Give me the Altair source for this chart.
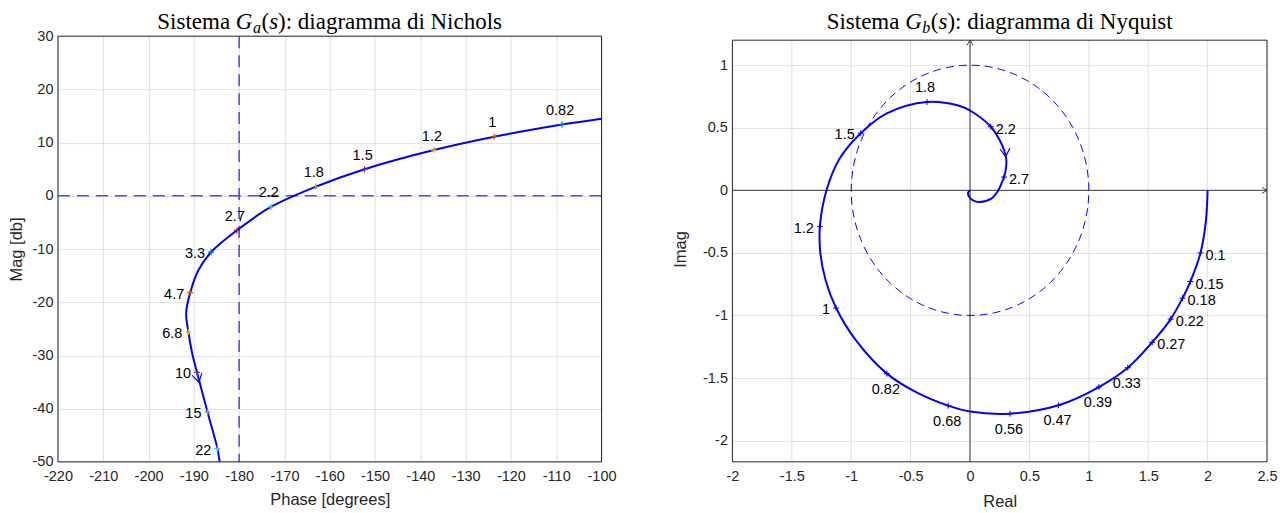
import altair as alt
import pandas as pd
import numpy as np

# ----------------------------- data: Nichols (G_a) -----------------------------
nich_phase = [-100.0, -108.7, -123.7, -137.0, -152.3, -163.1, -173.0, -180.5, -186.2,
              -189.0, -190.8, -191.7, -191.2, -190.4, -189.3, -187.0, -184.8, -184.3]
nich_mag = [14.5, 13.4, 11.1, 8.6, 5.0, 1.7, -2.1, -6.5, -10.6,
            -14.0, -18.2, -22.0, -25.6, -29.5, -33.2, -40.6, -47.5, -50.0]

nich_lab = ["0.82", "1", "1.2", "1.5", "1.8", "2.2", "2.7", "3.3", "4.7", "6.8", "10", "15", "22"]
nich_lab_phase = [-108.7, -123.7, -137.0, -152.3, -163.1, -173.0, -180.5, -186.2, -190.8, -191.2, -189.3, -187.0, -184.8]
nich_lab_mag = [13.4, 11.1, 8.6, 5.0, 1.7, -2.1, -6.5, -10.6, -18.2, -25.6, -33.2, -40.6, -47.5]
nich_lab_side = ["above"] * 7 + ["left"] * 6
nich_marker_colors = ["#0072BD", "#D95319", "#EDB120", "#7E2F8E", "#77AC30", "#4DBEEE", "#A2142F",
                      "#0072BD", "#D95319", "#EDB120", "#7E2F8E", "#77AC30", "#4DBEEE"]
nich_arrow_phase = [-188.9]
nich_arrow_mag = [-35.0]

phase_ticks = [-220, -210, -200, -190, -180, -170, -160, -150, -140, -130, -120, -110, -100]
mag_ticks = [-50, -40, -30, -20, -10, 0, 10, 20, 30]
xlim_a = [-220, -100]
ylim_a = [-50, 30]
crit_phase = [-180]
crit_mag = [0]

# ----------------------------- data: Nyquist (G_b) -----------------------------
nyq_re = [2.0, 1.985, 1.94, 1.855, 1.789, 1.689, 1.533, 1.328, 1.085, 0.745, 0.336, 0.0,
          -0.184, -0.45, -0.70, -0.96, -1.127, -1.215, -1.26, -1.264, -1.208, -1.10, -0.92,
          -0.70, -0.362, -0.10, 0.0, 0.175, 0.25, 0.292, 0.306, 0.30, 0.286, 0.264, 0.235,
          0.179, 0.081, 0.025, -0.006, -0.017, 0.0]
nyq_im = [0.0, -0.25, -0.50, -0.729, -0.862, -1.029, -1.215, -1.418, -1.572, -1.718, -1.785, -1.768,
          -1.721, -1.615, -1.465, -1.20, -0.941, -0.72, -0.50, -0.29, 0.0, 0.25, 0.456,
          0.615, 0.706, 0.678, 0.638, 0.508, 0.40, 0.306, 0.239, 0.16, 0.106, 0.053, -0.005,
          -0.066, -0.093, -0.08, -0.053, -0.021, 0.0]

nyq_lab = ["0.1", "0.15", "0.18", "0.22", "0.27", "0.33", "0.39", "0.47", "0.56", "0.68", "0.82",
           "1", "1.2", "1.5", "1.8", "2.2", "2.7"]
nyq_lab_re = [1.94, 1.855, 1.789, 1.689, 1.533, 1.328, 1.085, 0.745, 0.336, -0.184, -0.70,
              -1.127, -1.264, -0.92, -0.362, 0.175, 0.286]
nyq_lab_im = [-0.50, -0.729, -0.862, -1.029, -1.215, -1.418, -1.572, -1.718, -1.785, -1.721, -1.465,
              -0.941, -0.29, 0.456, 0.706, 0.508, 0.106]
nyq_lab_side = ["right"] * 5 + ["below"] * 6 + ["left"] * 3 + ["above"] + ["right"] * 2
nyq_arrow_re = [0.30]
nyq_arrow_im = [0.27]

re_ticks = [-2, -1.5, -1, -0.5, 0, 0.5, 1, 1.5, 2, 2.5]
im_ticks = [-2, -1.5, -1, -0.5, 0, 0.5, 1]
xlim_b = [-2, 2.5]
ylim_b = [-2.17, 1.2]
unit_radius = 1.0

# ----------------------------- style -----------------------------
FONT = "Liberation Sans"
SERIF = "Liberation Serif"
BLUE = "#0000ff"
AXC = "#262626"
GRID = "#e0e0e0"
PLUS = "M-1,0L1,0M0,-1L0,1"
VHEAD = "M-1,-1.6L0,0L1,-1.6"
RIGHT_HEAD = "M-1.25,-0.75L0,0L-1.25,0.75"
UP_HEAD = "M-0.75,1.25L0,0L0.75,1.25"

W_A, H_A = 544, 426
W_B, H_B = 535, 426
EXTRA_TOP_B = 4 / 125.2   # right axes box starts 4 px below the left one
TITLE_SIZE = 23

ONE = alt.Data(values=[{}])


def axis(values, title, label_pad, title_pad, grid=True):
    return alt.Axis(values=values, title=title, grid=grid, gridColor=GRID, gridWidth=1,
                    domain=False, ticks=False, labelFont=FONT, labelFontSize=14.5,
                    labelColor=AXC, labelPadding=label_pad, labelFlush=False,
                    labelOverlap=False, labelExpr="'' + datum.value",
                    titleFont=FONT, titleFontSize=16.5, titleFontWeight="normal",
                    titleColor=AXC, titlePadding=title_pad)


ROMAN = {" ": 250, "(": 333, ")": 333, ":": 278, "S": 556, "N": 722, "a": 444, "c": 444,
         "d": 500, "e": 444, "g": 500, "h": 500, "i": 278, "l": 278, "m": 778, "o": 500,
         "q": 500, "r": 333, "s": 389, "t": 278, "u": 500, "y": 500}
ITALIC = {"G": 722, "a": 500, "b": 500, "s": 389}


def title_layers(pieces, center, base, size):
    widths = []
    for txt, it, sub in pieces:
        fs = size * 0.7 if sub else size
        tbl = ITALIC if it else ROMAN
        widths.append(sum(tbl[c] for c in txt) * fs / 1000 + (1.0 if sub else 0.0))
    x = center - sum(widths) / 2
    out = []
    for (txt, it, sub), w in zip(pieces, widths):
        out.append(
            alt.Chart(ONE).mark_text(
                text=txt, align="left", baseline="alphabetic", font=SERIF,
                fontSize=size * 0.7 if sub else size,
                fontStyle="italic" if it else "normal", color="black"
            ).encode(x=alt.value(x + (0.5 if sub else 0.0)), y=alt.value(base + (4 if sub else 0)))
        )
        x += w
    return out


SIDES = {
    "above": dict(align="center", dx=-2, dy=-13.5),
    "left": dict(align="right", dx=-6, dy=2),
    "right": dict(align="left", dx=5, dy=3),
    "below": dict(align="center", dx=-1, dy=16),
}


def label_layers(df, x, y, sides):
    out = []
    for s in sides:
        out.append(
            alt.Chart(df).transform_filter(alt.datum.side == s).mark_text(
                baseline="middle", font=FONT, fontSize=14.5, color="black", **SIDES[s]
            ).encode(x=x, y=y, text="label:N")
        )
    return out


# ----------------------------- left: Nichols -----------------------------
xa = alt.X("phase:Q", scale=alt.Scale(domain=xlim_a, nice=False, zero=False),
           axis=axis(phase_ticks, "Phase [degrees]", 8, 8))
ya = alt.Y("mag:Q", scale=alt.Scale(domain=ylim_a, nice=False, zero=False),
           axis=axis(mag_ticks, "Mag [db]", 5, 7.5))

curve_a = pd.DataFrame({"phase": nich_phase, "mag": nich_mag, "k": list(range(len(nich_phase)))})
lab_a = pd.DataFrame({"phase": nich_lab_phase, "mag": nich_lab_mag, "label": nich_lab, "side": nich_lab_side})
arrow_a = pd.DataFrame({"phase": nich_arrow_phase, "mag": nich_arrow_mag})
frame_a = pd.DataFrame({"phase": [xlim_a[0]], "phase2": [xlim_a[1]], "mag": [ylim_a[0]], "mag2": [ylim_a[1]]})

left_layers = [
    alt.Chart(curve_a).mark_line(strokeOpacity=0).encode(x=xa, y=ya, order="k:Q"),
    alt.Chart(pd.DataFrame({"phase": crit_phase})).mark_rule(
        color="#4d4dff", strokeWidth=1.6, strokeDash=[12, 7]).encode(x=xa),
    alt.Chart(pd.DataFrame({"mag": crit_mag})).mark_rule(
        color="#4d4dff", strokeWidth=1.6, strokeDash=[12, 7]).encode(y=ya),
    alt.Chart(curve_a).mark_line(color=BLUE, strokeWidth=2, interpolate="catmull-rom", clip=True)
        .encode(x=xa, y=ya, order="k:Q"),
    alt.Chart(lab_a).mark_point(shape=PLUS, filled=False, size=36, strokeWidth=1.2, opacity=1)
        .encode(x=xa, y=ya, color=alt.Color("label:N", scale=alt.Scale(domain=nich_lab, range=nich_marker_colors), legend=None)),
]
left_layers += label_layers(lab_a, xa, ya, ["above", "left"])
left_layers += [
    alt.Chart(arrow_a).mark_point(shape=VHEAD, filled=False, size=100, strokeWidth=1.2,
                                  color=BLUE, opacity=1, angle=347).encode(x=xa, y=ya),
    alt.Chart(frame_a).mark_rect(fillOpacity=0, stroke=AXC, strokeWidth=1)
        .encode(x=xa, x2="phase2:Q", y=ya, y2="mag2:Q"),
]
left_layers += title_layers(
    [("Sistema ", False, False), ("G", True, False), ("a", True, True), ("(", False, False),
     ("s", True, False), ("): diagramma di Nichols", False, False)],
    W_A / 2, -7, TITLE_SIZE)

left = alt.layer(*left_layers).properties(width=W_A, height=H_A)

# ----------------------------- right: Nyquist -----------------------------
xb = alt.X("re:Q", scale=alt.Scale(domain=xlim_b, nice=False, zero=False),
           axis=axis(re_ticks, "Real", 8, 10, grid=False))
yb = alt.Y("im:Q", scale=alt.Scale(domain=[ylim_b[0], ylim_b[1] + EXTRA_TOP_B], nice=False, zero=False),
           axis=axis(im_ticks, "Imag", 5, 13.5))

curve_b = pd.DataFrame({"re": nyq_re, "im": nyq_im, "k": list(range(len(nyq_re)))})
lab_b = pd.DataFrame({"re": nyq_lab_re, "im": nyq_lab_im, "label": nyq_lab, "side": nyq_lab_side})
arrow_b = pd.DataFrame({"re": nyq_arrow_re, "im": nyq_arrow_im})
frame_b = pd.DataFrame({"re": [xlim_b[0]], "re2": [xlim_b[1]], "im": [ylim_b[0]], "im2": [ylim_b[1]]})
vgrid_b = pd.DataFrame({"re": re_ticks})
# unit circle (reference geometry, not data)
th = np.linspace(0, 2 * np.pi, 241)
circle_b = pd.DataFrame({"re": unit_radius * np.cos(th), "im": unit_radius * np.sin(th), "k": np.arange(len(th))})

right_layers = [
    alt.Chart(vgrid_b).mark_rule(color=GRID, strokeWidth=1)
        .encode(x=xb, y=alt.datum(ylim_b[0]), y2=alt.datum(ylim_b[1])),
    alt.Chart(ONE).mark_rule(color="#3a3a3a", strokeWidth=1)
        .encode(x=alt.datum(xlim_b[0]), x2=alt.datum(xlim_b[1]), y=alt.datum(0)),
    alt.Chart(ONE).mark_rule(color="#3a3a3a", strokeWidth=1)
        .encode(x=alt.datum(0), y=alt.datum(ylim_b[0]), y2=alt.datum(ylim_b[1])),
    alt.Chart(pd.DataFrame({"re": [xlim_b[1]], "im": [0]})).mark_point(
        shape=RIGHT_HEAD, filled=False, size=64, strokeWidth=1, color="#3a3a3a", opacity=1).encode(x=xb, y=yb),
    alt.Chart(pd.DataFrame({"re": [0], "im": [ylim_b[1]]})).mark_point(
        shape=UP_HEAD, filled=False, size=64, strokeWidth=1, color="#3a3a3a", opacity=1).encode(x=xb, y=yb),
    alt.Chart(circle_b).mark_line(color=BLUE, strokeWidth=1, strokeDash=[8, 5])
        .encode(x=xb, y=yb, order="k:Q"),
    alt.Chart(curve_b).mark_line(color=BLUE, strokeWidth=2, interpolate="catmull-rom", clip=True)
        .encode(x=xb, y=yb, order="k:Q"),
    alt.Chart(lab_b).mark_point(shape=PLUS, filled=False, size=36, strokeWidth=1, color=BLUE, opacity=1)
        .encode(x=xb, y=yb),
]
right_layers += label_layers(lab_b, xb, yb, ["right", "below", "left", "above"])
right_layers += [
    alt.Chart(arrow_b).mark_point(shape=VHEAD, filled=False, size=100, strokeWidth=1.2,
                                  color=BLUE, opacity=1, angle=355).encode(x=xb, y=yb),
    alt.Chart(frame_b).mark_rect(fillOpacity=0, stroke=AXC, strokeWidth=1)
        .encode(x=xb, x2="re2:Q", y=yb, y2="im2:Q"),
]
right_layers += title_layers(
    [("Sistema ", False, False), ("G", True, False), ("b", True, True), ("(", False, False),
     ("s", True, False), ("): diagramma di Nyquist", False, False)],
    W_B / 2, -6.7, TITLE_SIZE)

right = alt.layer(*right_layers).properties(width=W_B, height=H_B)

chart = (
    alt.hconcat(left, right, spacing=56)
    .resolve_scale(x="independent", y="independent", color="independent")
    .configure_view(stroke=None)
    .properties(padding={"left": 0, "top": 3, "right": 0, "bottom": 0}, background="white")
)

chart.save("out.html", embed_options={"renderer": "svg", "actions": False})
